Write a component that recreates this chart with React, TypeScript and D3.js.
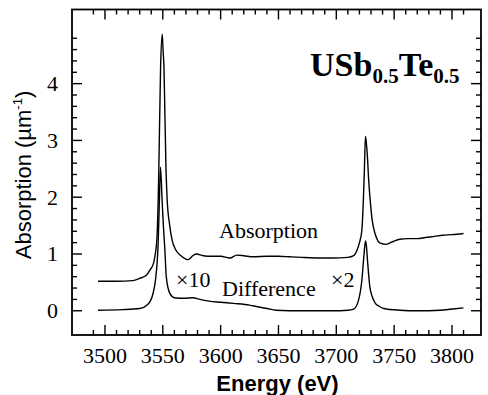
import React from "react";
import * as d3 from "d3";

const absE = [3494, 3510, 3524, 3530, 3536, 3539, 3542, 3543.5, 3545, 3546, 3546.6, 3548.1, 3549.5, 3550.2, 3551, 3552.7, 3553.8, 3556, 3558, 3561, 3565, 3570, 3572, 3576, 3579, 3585, 3592, 3600, 3608, 3614, 3620, 3628, 3640, 3650, 3660, 3670, 3685, 3697, 3710, 3715, 3718, 3720, 3722, 3723.4, 3724.3, 3725.2, 3726, 3726.8, 3728, 3729.5, 3731, 3733.5, 3736, 3738, 3743, 3749, 3755, 3762, 3770, 3777, 3785, 3792, 3800, 3810];
const absV = [0.52, 0.52, 0.53, 0.57, 0.63, 0.72, 0.84, 1.0, 1.3, 1.95, 2.54, 4.3, 4.87, 4.6, 4.3, 2.54, 1.95, 1.5, 1.25, 1.08, 0.98, 0.91, 0.9, 0.97, 1.0, 0.97, 0.96, 0.96, 0.93, 0.98, 0.97, 0.95, 0.96, 0.96, 0.95, 0.94, 0.93, 0.93, 0.94, 0.97, 1.07, 1.2, 1.4, 1.95, 2.5, 3.07, 2.95, 2.75, 2.3, 1.9, 1.6, 1.36, 1.23, 1.19, 1.17, 1.22, 1.26, 1.27, 1.27, 1.29, 1.31, 1.33, 1.34, 1.36];

const difE = [3494, 3515, 3530, 3537, 3541.5, 3544, 3546, 3547, 3548, 3549.5, 3550.5, 3551.8, 3553, 3556, 3560, 3568, 3576, 3582, 3590, 3600, 3611, 3625, 3632, 3640, 3648, 3670, 3697, 3710, 3715, 3719, 3722, 3724, 3725.2, 3726, 3727, 3729, 3731, 3733.5, 3737, 3741, 3755, 3770, 3790, 3800, 3810];
const difV = [0.01, 0.02, 0.04, 0.11, 0.3, 0.6, 1.2, 1.9, 2.53, 1.9, 1.5, 1.07, 0.6, 0.31, 0.23, 0.22, 0.23, 0.2, 0.17, 0.15, 0.13, 0.1, 0.07, 0.04, 0.01, 0.0, 0.0, 0.01, 0.03, 0.17, 0.52, 1.0, 1.23, 1.15, 0.88, 0.42, 0.25, 0.14, 0.08, 0.04, 0.01, 0.0, 0.01, 0.03, 0.05];

const xTickLabels = [3500, 3550, 3600, 3650, 3700, 3750, 3800];
const yTickLabels = [0, 1, 2, 3, 4];

const W = 488, H = 395;
const L = 72, R = 481, T = 9.5, B = 335;
const serif = "'Liberation Serif', 'Times New Roman', serif";
const sans = "'Liberation Sans', Arial, sans-serif";

export default function App() {
  const x = d3.scaleLinear().domain([3471.5, 3825.1]).range([L, R]);
  const y = d3.scaleLinear().domain([-0.427, 5.306]).range([B, T]);
  const line = d3.line<number>().curve(d3.curveMonotoneX);
  const absPath = line(absE.map((e, i) => [x(e), y(absV[i])] as [number, number]))!;
  const difPath = line(difE.map((e, i) => [x(e), y(difV[i])] as [number, number]))!;

  const xTicks = d3.range(3490, 3811, 10);
  const yTicks = d3.range(0, 25).map((i) => i * 0.2);

  return (
    <svg width={W} height={H} style={{ position: "absolute", left: 0, top: 0, background: "#fff" }}>
      <rect x={L} y={T} width={R - L} height={B - T} fill="none" stroke="#000" strokeWidth={1.8} />
      {xTicks.map((t) => {
        const major = Math.round(t) % 50 === 0;
        const len = major ? 10 : 5;
        const px = x(t);
        return (
          <g key={"xt" + t}>
            <line x1={px} x2={px} y1={B} y2={B - len} stroke="#000" strokeWidth={1.4} />
            <line x1={px} x2={px} y1={T} y2={T + len} stroke="#000" strokeWidth={1.4} />
          </g>
        );
      })}
      {yTicks.map((t, i) => {
        const major = i % 5 === 0;
        const len = major ? 10 : 5;
        const py = y(t);
        return (
          <g key={"yt" + i}>
            <line x1={L} x2={L + len} y1={py} y2={py} stroke="#000" strokeWidth={1.4} />
            <line x1={R} x2={R - len} y1={py} y2={py} stroke="#000" strokeWidth={1.4} />
          </g>
        );
      })}
      {xTickLabels.map((t) => (
        <text key={"xl" + t} x={x(t)} y={363} textAnchor="middle" fontFamily={serif} fontSize={22}>
          {t}
        </text>
      ))}
      {yTickLabels.map((t) => (
        <text key={"yl" + t} x={58} y={y(t) + 7.5} textAnchor="end" fontFamily={serif} fontSize={22}>
          {t}
        </text>
      ))}
      <text x={(L + R) / 2 + 1} y={391} textAnchor="middle" fontFamily={sans} fontWeight="bold" fontSize={22}>
        Energy (eV)
      </text>
      <text transform={`translate(31,175) rotate(-90)`} textAnchor="middle" fontFamily={sans} fontSize={22}>
        Absorption (µm<tspan dy={-9} fontSize={13}>-1</tspan><tspan dy={9}>)</tspan>
      </text>
      <path d={absPath} fill="none" stroke="#000" strokeWidth={1.4} />
      <path d={difPath} fill="none" stroke="#000" strokeWidth={1.4} />
      <text x={219} y={238} fontFamily={serif} fontSize={22}>Absorption</text>
      <text x={222} y={296} fontFamily={serif} fontSize={22}>Difference</text>
      <text x={176} y={287} fontFamily={serif} fontSize={22}>×10</text>
      <text x={331} y={287} fontFamily={serif} fontSize={22}>×2</text>
      <text x={310} y={76} fontFamily={serif} fontWeight="bold" fontSize={34}>
        USb<tspan dy={7} fontSize={21}>0.5</tspan><tspan dy={-7}>Te</tspan><tspan dy={7} fontSize={21}>0.5</tspan>
      </text>
    </svg>
  );
}
